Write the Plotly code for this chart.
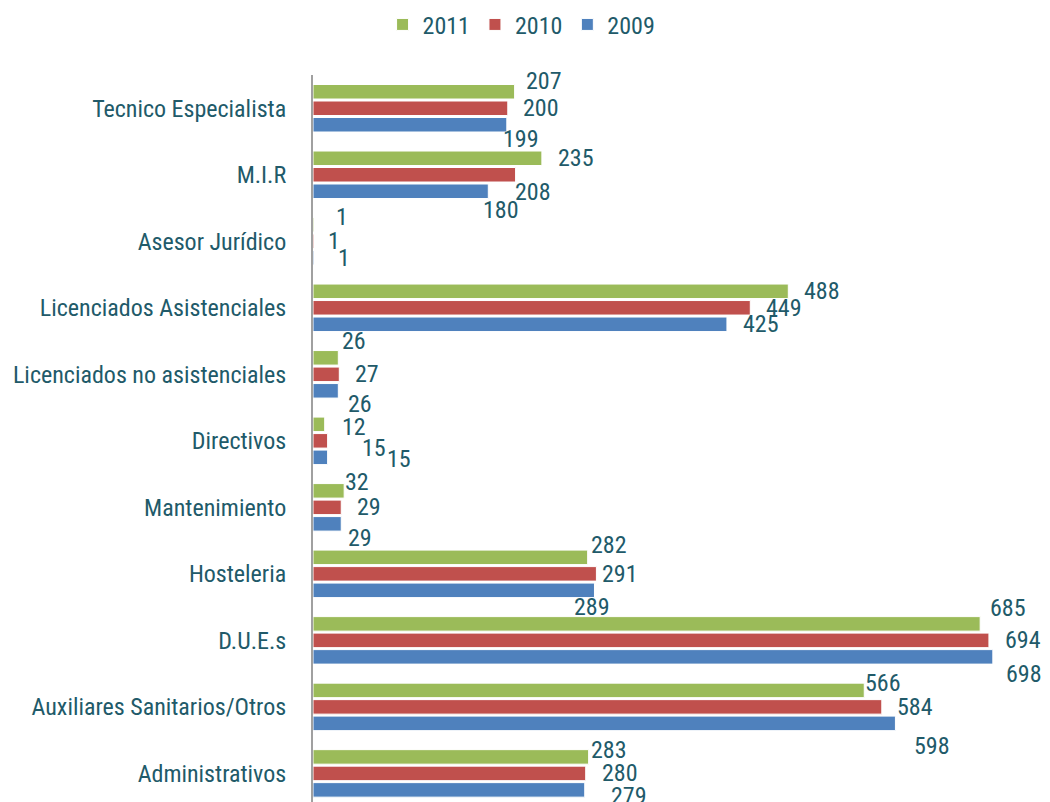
import plotly.graph_objects as go

categories = [
    "Tecnico Especialista",
    "M.I.R",
    "Asesor Jurídico",
    "Licenciados Asistenciales",
    "Licenciados no asistenciales",
    "Directivos",
    "Mantenimiento",
    "Hosteleria",
    "D.U.E.s",
    "Auxiliares Sanitarios/Otros",
    "Administrativos",
]
years = ["2011", "2010", "2009"]
values_2011 = [207, 235, 1, 488, 26, 12, 32, 282, 685, 566, 283]
values_2010 = [200, 208, 1, 449, 27, 15, 29, 291, 694, 584, 280]
values_2009 = [199, 180, 1, 425, 26, 15, 29, 289, 698, 598, 279]

colors = ["#9BBB59", "#C0504D", "#4F81BD"]
series = [values_2011, values_2010, values_2009]
TEXT = "#215A69"
FONT = "Liberation Sans Narrow, Arial Narrow, Roboto Condensed, sans-serif"

# label offsets (dx, dy in px, text centre relative to bar end / bar centre), Excel-style hand placement
label_offsets = [
    [(29, -11), (34, 0), (28, -8), (34, 0), (16, -17), (29, 3), (13, -9), (21, -12), (28, -16), (19, -7), (20, -7)],
    [(33, 0), (17, 17), (20, 0), (34, 0), (28, 0), (46, 7), (28, 0), (24, 0), (34, 0), (33, 0), (34, 0)],
    [(14, 14), (13, 19), (30, 0), (34, 0), (22, 13), (71, 2), (19, 14), (-2, 17), (31, 17), (37, 23), (44, 6)],
]
bar_offset = [-16.5, 0, 16.5]

fig = go.Figure()
for name, vals, col in zip(years, series, colors):
    fig.add_trace(
        go.Bar(
            y=categories,
            x=vals,
            name=name,
            orientation="h",
            marker={"color": col, "line": {"color": "white", "width": 1}},
        )
    )

annotations = []
for s, vals in enumerate(series):
    for i, v in enumerate(vals):
        dx, dy = label_offsets[s][i]
        annotations.append(
            dict(
                x=v,
                y=categories[i],
                text=str(v),
                showarrow=False,
                xanchor="center",
                yanchor="middle",
                xshift=dx,
                yshift=-(bar_offset[s] + dy),
                font={"size": 24, "color": TEXT, "family": FONT},
            )
        )

# page body has an 8px margin, so the figure is sized/offset to land on the 1050x802 frame
fig.update_layout(
    width=1042,
    height=794,
    barmode="group",
    bargap=0.256,
    bargroupgap=0.12,
    plot_bgcolor="white",
    paper_bgcolor="white",
    margin={"l": 305, "r": 0, "t": 67, "b": 0, "autoexpand": False},
    font={"family": FONT, "color": TEXT, "size": 24},
    annotations=annotations,
    legend={
        "orientation": "h",
        "x": 0.283,
        "xanchor": "center",
        "y": 1.069,
        "yanchor": "middle",
        "font": {"size": 24, "color": TEXT, "family": FONT},
        "itemwidth": 30,
    },
)
fig.update_xaxes(
    range=[0, 756.7],
    showgrid=False,
    zeroline=False,
    showticklabels=False,
    showline=False,
    automargin=False,
)
fig.update_yaxes(
    range=[10.43, -0.5],
    showgrid=False,
    zeroline=False,
    showline=True,
    linecolor="#A0A0A0",
    linewidth=2,
    ticks="",
    ticklabelstandoff=20,
    automargin=False,
    tickfont={"size": 24, "color": TEXT, "family": FONT},
)

fig.write_html("out.html")
